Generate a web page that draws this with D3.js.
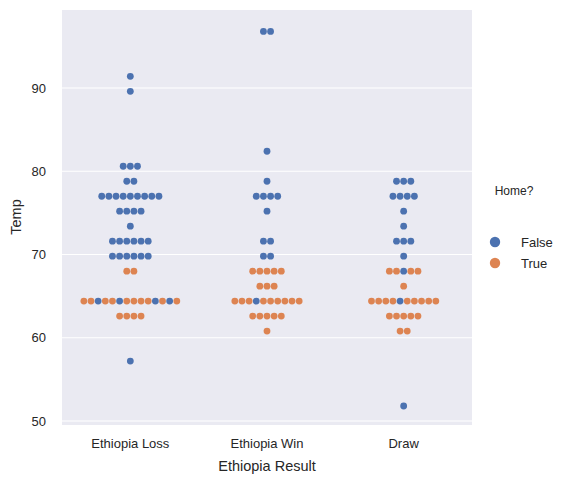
<!DOCTYPE html>
<html><head><meta charset="utf-8">
<script src="https://cdn.jsdelivr.net/npm/d3@7"></script>
<style>body{margin:0;background:#fff}text{font-family:"Liberation Sans",Arial,sans-serif;fill:#262626}</style>
</head><body><svg id="c" width="574" height="484"></svg>
<script>
const categories = ["Ethiopia Loss", "Ethiopia Win", "Draw"];
const yTicks = [50, 60, 70, 80, 90];
// rows: [temp, hue sequence left to right] (F = False, T = True)
const lossRows = [[91.4,"F"],[89.6,"F"],[80.6,"FFF"],[78.8,"FF"],[77,"FFFFFFFFF"],[75.2,"FFFF"],[73.4,"F"],
  [71.6,"FFFFFF"],[69.8,"FFFFFF"],[68,"TT"],[64.4,"TTFTTFTTTTFTFT"],[62.6,"TTTT"],[57.2,"F"]];
const winRows = [[96.8,"FF"],[82.4,"F"],[78.8,"F"],[77,"FFFF"],[75.2,"F"],[71.6,"FF"],[69.8,"FF"],
  [68,"TTTTT"],[66.2,"TTT"],[64.4,"TTTFTTTTTT"],[62.6,"TTTTT"],[60.8,"T"]];
const drawRows = [[78.8,"FFF"],[77,"FFFF"],[75.2,"F"],[73.4,"F"],[71.6,"FFF"],[69.8,"F"],[68,"TTFTT"],
  [66.2,"T"],[64.4,"TTTTFTTTTT"],[62.6,"TTTTT"],[60.8,"TT"],[51.8,"F"]];
const rowsByCat = [lossRows, winRows, drawRows];
const color = {F: "#4c72b0", T: "#dd8452"};

const svg = d3.select("#c");
const x = d3.scaleBand().domain(categories).range([62, 472]);
const y = d3.scaleLinear().domain([49, 101.2]).range([425, 10]);
y.domain([50 - (421 - 425) / 8.325 * -1 + 0, 0]); // placeholder replaced below
y.domain([50 - 4 / 8.325, 50 + 411 / 8.325]).range([425, 10]);

svg.append("rect").attr("x", 62).attr("y", 10).attr("width", 410).attr("height", 415).attr("fill", "#eaeaf2");
svg.append("g").selectAll("line").data(yTicks).join("line")
  .attr("x1", 62).attr("x2", 472).attr("y1", d => y(d)).attr("y2", d => y(d))
  .attr("stroke", "#fff").attr("stroke-width", 1.2);

const pts = [];
rowsByCat.forEach((rows, ci) => {
  const cx = x(categories[ci]) + x.bandwidth() / 2;
  rows.forEach(([t, hues]) => {
    const n = hues.length;
    [...hues].forEach((h, i) => pts.push({x: cx + (i - (n - 1) / 2) * 7.15, y: y(t), h}));
  });
});
svg.append("g").selectAll("circle").data(pts).join("circle")
  .attr("cx", d => d.x).attr("cy", d => d.y).attr("r", 3.4)
  .attr("fill", d => color[d.h]);

svg.append("g").selectAll("text").data(yTicks).join("text")
  .attr("x", 46).attr("y", d => y(d) + 4.5).attr("text-anchor", "end").attr("font-size", 13).text(d => d);
svg.append("g").selectAll("text").data(categories).join("text")
  .attr("x", d => x(d) + x.bandwidth() / 2).attr("y", 448).attr("text-anchor", "middle").attr("font-size", 13).text(d => d);
svg.append("text").attr("x", 267).attr("y", 471).attr("text-anchor", "middle").attr("font-size", 14.5).text("Ethiopia Result");
svg.append("text").attr("transform", "translate(21,217) rotate(-90)").attr("text-anchor", "middle").attr("font-size", 14.5).text("Temp");

svg.append("text").attr("x", 514).attr("y", 195).attr("text-anchor", "middle").attr("font-size", 12).text("Home?");
[["False", "F"], ["True", "T"]].forEach(([lab, k], i) => {
  svg.append("circle").attr("cx", 495).attr("cy", 242 + i * 21).attr("r", 5.2).attr("fill", color[k]);
  svg.append("text").attr("x", 521).attr("y", 246.5 + i * 21).attr("font-size", 13).text(lab);
});
</script></body></html>
